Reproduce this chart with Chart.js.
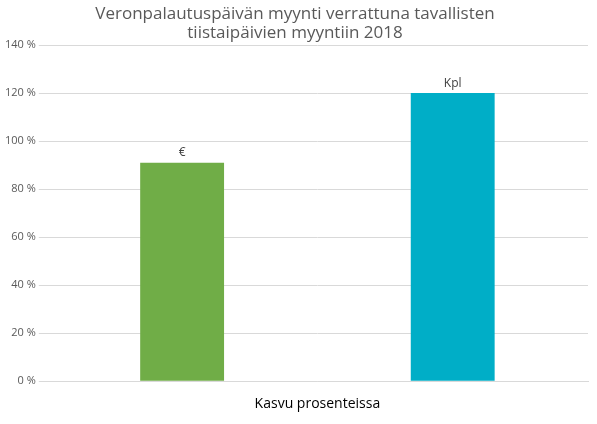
<!DOCTYPE html>
<html>
<head>
<meta charset="utf-8">
<script src="https://cdn.jsdelivr.net/npm/chart.js@4"></script>
<style>
  body { margin: 0; background: #fff; }
  #wrap { width: 597px; height: 424px; }
</style>
</head>
<body>
<div id="wrap"><canvas id="chart"></canvas></div>
<script>
const categories = ['Kasvu prosenteissa'];
const seriesNames = ['€', 'Kpl'];
const euroValues = [91];
const kplValues = [120];
const colors = ['#70AD47', '#00AEC7'];

// draws the series name above each bar
const barLabels = {
    id: 'barLabels',
    afterDatasetsDraw(chart) {
        const ctx = chart.ctx;
        ctx.save();
        ctx.font = '12px "Open Sans", sans-serif';
        ctx.fillStyle = '#404040';
        ctx.textAlign = 'center';
        ctx.textBaseline = 'bottom';
        chart.data.datasets.forEach((ds, i) => {
            chart.getDatasetMeta(i).data.forEach(bar => {
                ctx.fillText(ds.label, bar.x, bar.y - 4);
            });
        });
        ctx.restore();
    }
};

const ctx = document.getElementById('chart').getContext('2d');
new Chart(ctx, {
    type: 'bar',
    data: {
        labels: categories,
        datasets: [
            { label: seriesNames[0], data: euroValues, backgroundColor: colors[0] },
            { label: seriesNames[1], data: kplValues, backgroundColor: colors[1] }
        ]
    },
    options: {
        responsive: true,
        maintainAspectRatio: false,
        animation: false,
        layout: { padding: { left: 2, right: 9, top: 4, bottom: 6 } },
        datasets: { bar: { categoryPercentage: 1, barPercentage: 0.31 } },
        plugins: {
            legend: { display: false },
            tooltip: { enabled: false },
            title: {
                display: true,
                text: ['Veronpalautuspäivän myynti verrattuna tavallisten', 'tiistaipäivien myyntiin 2018'],
                color: '#595959',
                font: { family: '"Open Sans", sans-serif', size: 17, weight: 'normal', lineHeight: 1.15 },
                padding: { top: 0, bottom: 2 }
            }
        },
        scales: {
            x: {
                grid: { display: false },
                border: { color: '#d9d9d9' },
                ticks: { color: '#000', padding: 6, font: { family: '"Open Sans", sans-serif', size: 14 } }
            },
            y: {
                min: 0,
                max: 140,
                ticks: {
                    stepSize: 20,
                    color: '#595959',
                    font: { family: '"Open Sans", sans-serif', size: 11 },
                    callback: v => v + ' %'
                },
                grid: { color: '#d9d9d9' },
                border: { display: false }
            }
        }
    },
    plugins: [barLabels]
});
</script>
</body>
</html>
